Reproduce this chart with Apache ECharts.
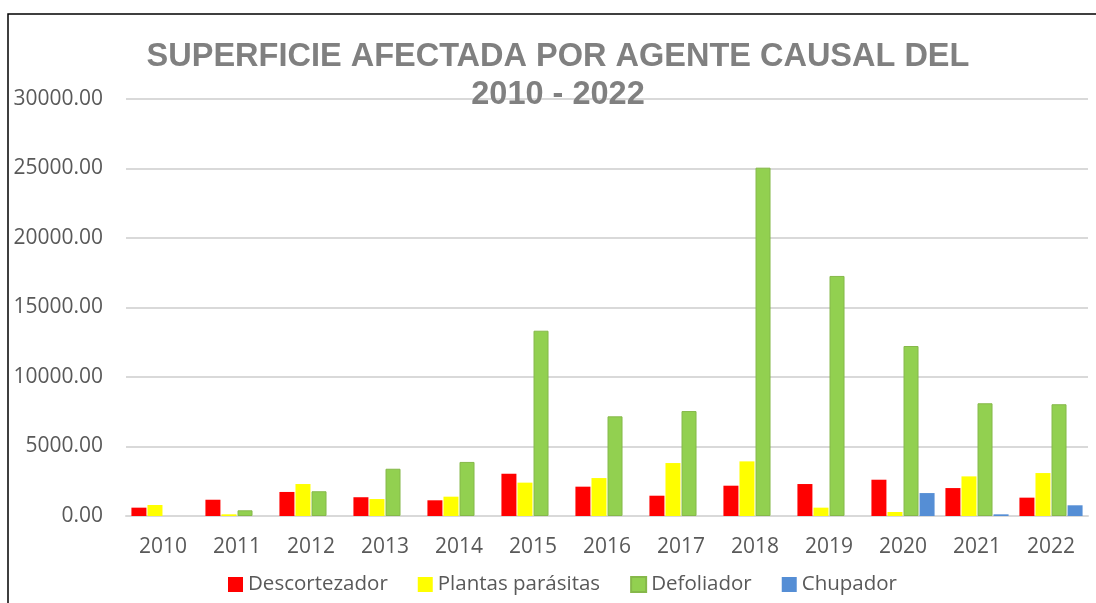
<!DOCTYPE html>
<html>
<head>
<meta charset="utf-8">
<script src="https://cdn.jsdelivr.net/npm/echarts@6/dist/echarts.min.js"></script>
<style>
  html, body { margin: 0; padding: 0; background: #fff; }
  #chart { width: 1096px; height: 603px; }
</style>
</head>
<body>
<div id="chart"></div>
<script>
// datos
const years = ["2010", "2011", "2012", "2013", "2014", "2015", "2016", "2017", "2018", "2019", "2020", "2021", "2022"];
const descortezador = [600, 1170, 1730, 1350, 1130, 3040, 2110, 1460, 2180, 2300, 2610, 2010, 1320];
const plantasParasitas = [790, 120, 2300, 1220, 1390, 2400, 2730, 3810, 3930, 600, 290, 2850, 3090];
const defoliador = [null, 410, 1780, 3400, 3890, 13330, 7170, 7550, 25060, 17270, 12230, 8110, 8040];
const chupador = [null, null, null, null, null, null, null, null, null, null, 1650, 120, 770];

const txtFont = "'Open Sans', 'Liberation Sans', sans-serif";

const chartDom = document.getElementById("chart");
const myChart = echarts.init(chartDom);

const mkBar = (name, data, color, border) => ({
  name: name,
  type: "bar",
  data: data,
  barWidth: 15,
  barGap: "7%",
  itemStyle: {
    color: color,
    borderColor: border || color,
    borderWidth: border ? 1 : 0,
  },
});

const option = {
  animation: false,
  backgroundColor: "#fff",
  title: {
    text: "SUPERFICIE AFECTADA POR AGENTE CAUSAL DEL\n2010 - 2022",
    left: 553,
    textAlign: "center",
    top: 33,
    textStyle: {
      fontFamily: "'Liberation Sans', Arial, sans-serif",
      fontWeight: "bold",
      fontSize: 32.5,
      lineHeight: 38,
      color: "#808080",
    },
  },
  legend: {
    data: ["Descortezador", "Plantas parásitas", "Defoliador", "Chupador"],
    left: 228,
    top: 574,
    padding: 0,
    icon: "rect",
    itemWidth: 15,
    itemHeight: 15,
    itemGap: 30,
    textStyle: { fontFamily: txtFont, fontSize: 20.5, color: "#595959" },
  },
  grid: { left: 126, right: 8, top: 99, bottom: 87 },
  xAxis: {
    type: "category",
    data: years,
    axisLine: { lineStyle: { color: "#d9d9d9", width: 2 } },
    axisTick: { show: false },
    axisLabel: { margin: 21, fontFamily: txtFont, fontSize: 21, color: "#595959" },
  },
  yAxis: {
    type: "value",
    min: 0,
    max: 30000,
    interval: 5000,
    axisLine: { show: false },
    axisTick: { show: false },
    splitLine: { lineStyle: { color: "#d9d9d9", width: 2 } },
    axisLabel: {
      margin: 23,
      fontFamily: txtFont,
      fontSize: 21,
      color: "#595959",
      formatter: (v) => v.toFixed(2),
    },
  },
  graphic: [
    {
      type: "rect",
      shape: { x: 8, y: 14, width: 1300, height: 800 },
      style: { fill: "none", stroke: "#000", lineWidth: 1.5 },
      z: 100,
      silent: true,
    },
  ],
  series: [
    mkBar("Descortezador", descortezador, "#ff0000"),
    mkBar("Plantas parásitas", plantasParasitas, "#ffff00"),
    mkBar("Defoliador", defoliador, "#92d050", "#86b84a"),
    mkBar("Chupador", chupador, "#558ed5"),
  ],
};

option && myChart.setOption(option);
</script>
</body>
</html>
